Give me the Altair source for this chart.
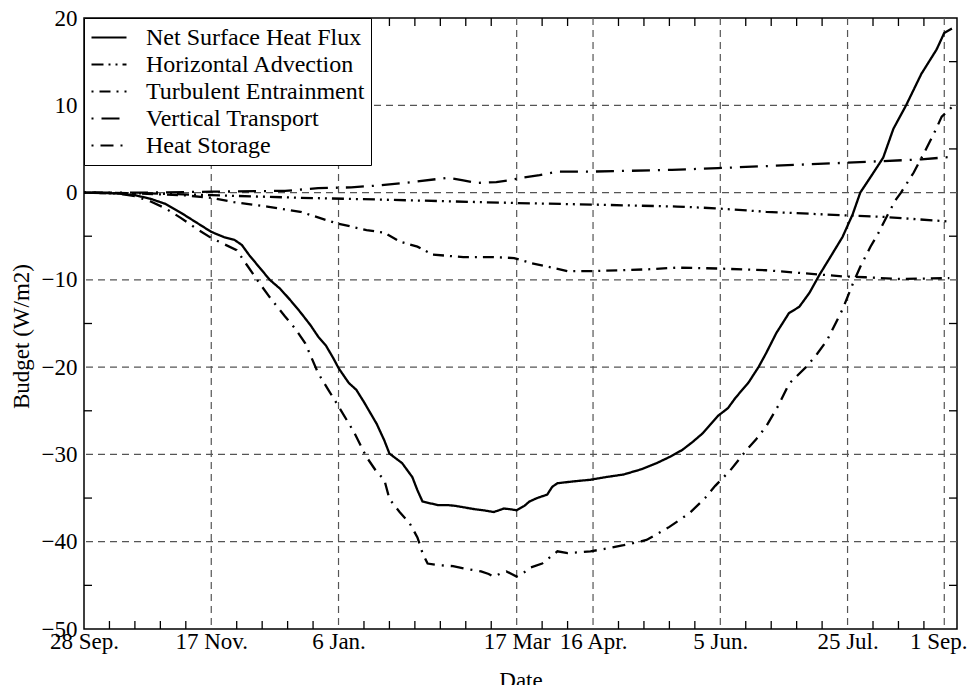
import altair as alt
import pandas as pd

series_names = ["Net Surface Heat Flux", "Horizontal Advection",
                "Turbulent Entrainment", "Vertical Transport", "Heat Storage"]

nshf_days = [0, 13, 20, 26, 32, 38, 44, 50, 55, 59, 62, 65, 69, 73, 77, 81,
             85, 89, 92, 95, 98, 100, 104, 107, 110, 112, 115, 118, 120, 125, 129, 131,
             133, 136, 139, 143, 146, 150, 154, 157, 161, 165, 168, 170, 173, 175, 178, 182,
             184, 186, 192, 199, 205, 212, 219, 225, 230, 235, 239, 243, 246, 249, 253, 256,
             261, 265, 268, 272, 277, 281, 285, 289, 293, 298, 302, 305, 310, 314, 318, 323,
             329, 335, 338, 341]
nshf_vals = [0, -0.1, -0.3, -0.7, -1.3, -2.3, -3.4, -4.5, -5.1, -5.4, -6.0, -7.2, -8.6, -10.0, -11.0, -12.3,
             -13.7, -15.2, -16.5, -17.5, -19.0, -20.1, -21.8, -22.6, -24.0, -25.0, -26.5, -28.4, -29.9, -31.0, -32.6, -34.1,
             -35.4, -35.6, -35.8, -35.8, -35.9, -36.1, -36.3, -36.4, -36.6, -36.2, -36.3, -36.4, -35.9, -35.4, -35.0, -34.6,
             -33.7, -33.3, -33.1, -32.9, -32.6, -32.3, -31.7, -31.0, -30.3, -29.5, -28.6, -27.6, -26.6, -25.6, -24.7, -23.5,
             -21.8, -20.0, -18.4, -16.1, -13.8, -13.1, -11.5, -9.4, -7.5, -5.1, -2.5, 0.0, 2.2, 4.0, 7.3, 10.0,
             13.6, 16.4, 18.3, 18.8]

ha_days = [0, 26, 50, 85, 116, 170, 203, 233, 248, 268, 298, 315, 339]
ha_vals = [0, -0.1, -0.3, -0.6, -0.8, -1.2, -1.4, -1.6, -1.8, -2.2, -2.6, -2.8, -3.3]

te_days = [0, 20, 39, 50, 59, 72, 85, 99, 111, 118, 124, 131, 137, 149, 161, 169,
           176, 184, 190, 199, 221, 233, 249, 268, 281, 298, 307, 320, 340]
te_vals = [0, -0.1, -0.3, -0.6, -1.1, -1.6, -2.2, -3.5, -4.3, -4.6, -5.6, -6.2, -7.1, -7.4, -7.4, -7.5,
           -8.1, -8.6, -9.0, -9.0, -8.8, -8.6, -8.7, -8.9, -9.2, -9.6, -9.7, -9.9, -9.8]

vt_days = [0, 26, 50, 79, 92, 105, 115, 129, 143, 149, 154, 162, 167, 172, 179, 186,
           199, 231, 249, 298, 329, 341]
vt_vals = [0, 0.0, 0.1, 0.2, 0.5, 0.6, 0.8, 1.2, 1.7, 1.4, 1.1, 1.2, 1.4, 1.7, 2.0, 2.4,
           2.4, 2.6, 2.8, 3.4, 3.8, 4.1]

hs_days = [0, 13, 20, 26, 32, 38, 44, 50, 55, 60, 64, 68, 73, 79, 83, 87,
           92, 96, 100, 106, 111, 115, 118, 120, 124, 128, 131, 133, 135, 140, 145, 150,
           156, 159, 161, 164, 166, 168, 170, 173, 175, 180, 183, 186, 190, 195, 199, 205,
           212, 221, 230, 235, 238, 244, 248, 254, 260, 264, 268, 273, 277, 284, 288, 292,
           298, 302, 305, 309, 312, 316, 319, 321, 326, 330, 334, 337, 341]
hs_vals = [0, -0.1, -0.4, -1.0, -1.8, -2.9, -4.1, -5.2, -5.9, -6.6, -8.3, -10.0, -12.0, -14.2, -15.6, -17.3,
           -20.7, -22.6, -24.5, -27.4, -30.3, -32.0, -32.9, -35.1, -36.6, -37.9, -39.5, -41.3, -42.5, -42.7, -42.8, -43.1,
           -43.4, -43.7, -44.0, -43.6, -43.4, -43.7, -44.0, -43.5, -43.0, -42.5, -41.8, -41.1, -41.3, -41.2, -41.1, -40.8,
           -40.4, -39.8, -38.3, -37.3, -36.7, -35.0, -33.6, -31.8, -29.6, -28.3, -26.8, -24.3, -21.9, -19.9, -18.5, -16.9,
           -13.4, -10.5, -8.5, -6.2, -4.7, -2.4, -0.8, 0.0, 2.3, 4.5, 6.8, 8.7, 9.8]

label_days = [0, 50, 100, 170, 200, 250, 300, 338]
label_texts = ["28 Sep.", "17 Nov.", "6 Jan.", "17 Mar", "16 Apr.", "5 Jun.", "25 Jul.", "1 Sep."]
grid_days = [50, 100, 170, 200, 250, 300, 338]
y_labels = [-50, -40, -30, -20, -10, 0, 10, 20]
grid_vals = [-40, -30, -20, -10, 0, 10]
minor_days = [10, 20, 30, 40, 60, 70, 80, 90, 110, 120, 130, 140, 150, 160, 180, 190,
              210, 220, 230, 240, 260, 270, 280, 290, 310, 320, 330]
minor_vals = [-45, -35, -25, -15, -5, 5, 15]

dashes = [[1, 0], [12, 5, 2, 5, 2, 5], [2, 6, 11, 6], [2, 8, 18, 8], [2, 7, 13, 7]]

W, H = 873, 611
FONT = "'Liberation Serif', 'Times New Roman', Times, 'DejaVu Serif', serif"

rows = []
for name, ds, vs in zip(series_names,
                        [nshf_days, ha_days, te_days, vt_days, hs_days],
                        [nshf_vals, ha_vals, te_vals, vt_vals, hs_vals]):
    for d, v in zip(ds, vs):
        rows.append({"series": name, "day": d, "value": v})
df = pd.DataFrame(rows)

expr = ""
for d, t in zip(label_days, label_texts):
    expr += f"datum.value == {d} ? '{t}' : "
expr += "''"

xs = alt.Scale(domain=[0, 343], nice=False, zero=False)
ys = alt.Scale(domain=[-50, 20], nice=False, zero=False)

xax = alt.Axis(title="Date", values=label_days, labelExpr=expr, grid=False, ticks=False,
               tickSize=0, domain=False, labelFlush=False, labelOverlap=False,
               labelFontSize=23, labelPadding=1, labelColor="black", labelFont=FONT,
               labelOffset={"condition": {"test": f"datum.value == {label_days[-1]}", "value": -6},
                            "value": 0},
               titleFontSize=23, titleFontWeight="normal", titleColor="black", titleFont=FONT,
               titleBaseline="top", titleY=40)
yax = alt.Axis(title="Budget (W/m2)", values=y_labels, grid=False, ticks=False,
               tickSize=0, domain=False, labelFlush=False, labelOverlap=False,
               labelFontSize=23, labelPadding=7, labelColor="black", labelFont=FONT,
               titleFontSize=23, titleFontWeight="normal", titleColor="black", titleFont=FONT,
               titleX=-63, titleY=318, titleBaseline="middle", titleAngle=270)

grid_style = dict(color="#555555", strokeWidth=1.2, strokeDash=[7, 5])

gx = alt.Chart(pd.DataFrame({"day": grid_days})).mark_rule(**grid_style).encode(
    x=alt.X("day:Q", scale=xs, axis=xax))
gy = alt.Chart(pd.DataFrame({"value": grid_vals})).mark_rule(**grid_style).encode(
    y=alt.Y("value:Q", scale=ys, axis=yax))

mx = pd.DataFrame({"day": minor_days})
my = pd.DataFrame({"value": minor_vals})
tick_style = dict(color="black", strokeWidth=1.3)
tb = alt.Chart(mx).mark_rule(**tick_style).encode(
    x=alt.X("day:Q", scale=xs, axis=xax), y=alt.value(H), y2=alt.value(H - 8))
tt = alt.Chart(mx).mark_rule(**tick_style).encode(
    x=alt.X("day:Q", scale=xs, axis=xax), y=alt.value(0), y2=alt.value(8))
tl = alt.Chart(my).mark_rule(**tick_style).encode(
    y=alt.Y("value:Q", scale=ys, axis=yax), x=alt.value(0), x2=alt.value(8))
tr = alt.Chart(my).mark_rule(**tick_style).encode(
    y=alt.Y("value:Q", scale=ys, axis=yax), x=alt.value(W), x2=alt.value(W - 8))

leg = alt.Legend(title=None, orient="top-left", offset=0, padding=6,
                 strokeColor="black", fillColor="white",
                 symbolType="stroke", symbolSize=1225, symbolStrokeWidth=2.2,
                 symbolStrokeColor="black", labelFontSize=24, labelFont=FONT,
                 labelColor="black", labelOffset=18, rowPadding=0, clipHeight=27,
                 labelLimit=500)

lines = alt.Chart(df).mark_line(color="black", strokeWidth=2.3).encode(
    x=alt.X("day:Q", scale=xs, axis=xax),
    y=alt.Y("value:Q", scale=ys, axis=yax),
    strokeDash=alt.StrokeDash("series:N", scale=alt.Scale(domain=series_names, range=dashes),
                              legend=leg),
)

chart = alt.layer(gx, gy, tb, tt, tl, tr, lines).properties(
    width=W, height=H,
    autosize=alt.AutoSizeParams(type="none"),
    padding={"left": 76, "top": 10, "right": 11, "bottom": 56},
).configure(font=FONT).configure_view(stroke="black", strokeWidth=1.5)

chart.save("out.html", embed_options={"renderer": "svg", "actions": False})
